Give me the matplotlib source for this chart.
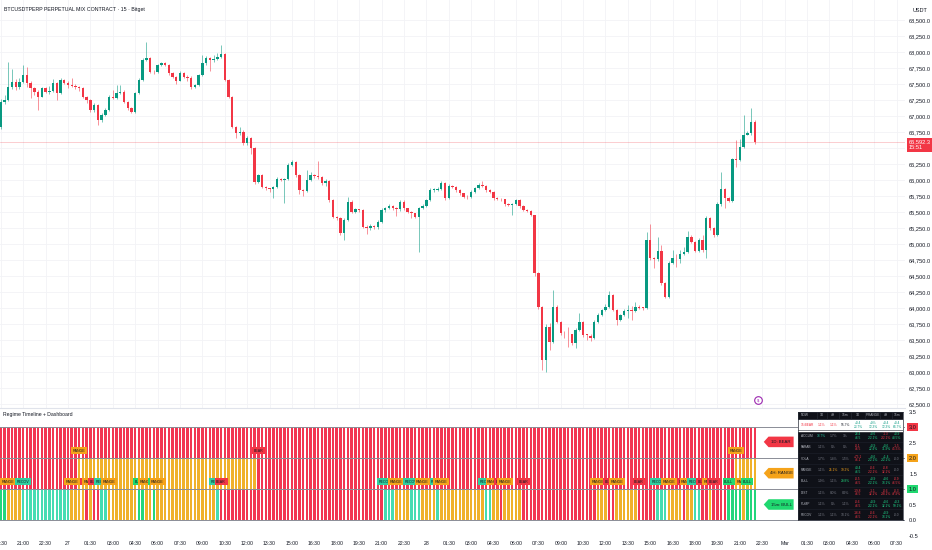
import numpy as np
import matplotlib.pyplot as plt
from matplotlib.patches import Polygon
import matplotlib.transforms as mtransforms

plt.rcParams['font.family'] = ['Liberation Sans', 'DejaVu Sans']

# ---- price data (15m candles, Feb 26 19:30 -> Feb 28 22:00) ----
first_open = 66833
closes = [
    67223, 67250, 67458, 67536, 67450, 67536, 67640, 67510, 67433, 67380,
    67302, 67433, 67380, 67395, 67510, 67355, 67562, 67520, 67484, 67470,
    67458, 67433, 67302, 67250, 67094, 67172, 66937, 67016, 67094, 67302,
    67280, 67355, 67380, 67223, 67120, 67068, 67355, 67562, 67875, 67901,
    67692, 67680, 67797, 67823, 67800, 67667, 67614, 67552, 67677, 67614,
    67600, 67448, 67484, 67640, 67833, 67901, 67870, 67890, 67917, 67970,
    67562, 67302, 66833, 66730, 66745, 66573, 66656, 66495, 65974, 66078,
    65895, 65870, 65855, 65883, 66011, 66000, 66015, 66234, 66286, 66078,
    65844, 65830, 66000, 66078, 66060, 66050, 65948, 65990, 65688, 65427,
    65402, 65167, 65375, 65661, 65505, 65542, 65530, 65271, 65245, 65286,
    65260, 65348, 65531, 65557, 65594, 65557, 65540, 65661, 65557, 65505,
    65479, 65427, 65557, 65594, 65688, 65844, 65850, 65860, 65958, 65714,
    65906, 65895, 65844, 65792, 65740, 65730, 65818, 65870, 65922, 65910,
    65844, 65818, 65714, 65700, 65698, 65625, 65610, 65625, 65688, 65594,
    65531, 65520, 65453, 64542, 64021, 63188, 63698, 63474, 64021, 63786,
    63604, 63600, 63590, 63448, 63656, 63786, 63578, 63570, 63526, 63786,
    63890, 63969, 64021, 64203, 63969, 63813, 63890, 63958, 63969, 63960,
    64021, 64000, 63995, 65062, 64776, 64760, 64895, 64386, 64177, 64708,
    64776, 64770, 64843, 64880, 65114, 65036, 64895, 65062, 64906, 65402,
    65245, 65140, 65625, 65855, 65714, 65677, 66323, 66310, 66520, 66703,
    66730, 66911, 66592.3,
]
highs = [
    67260, 67330, 67850, 67730, 67580, 67600, 67797, 67760, 67540, 67450,
    67400, 67460, 67450, 67470, 67580, 67530, 67590, 67580, 67540, 67600,
    67500, 67470, 67450, 67320, 67270, 67200, 67190, 67040, 67120, 67330,
    67400, 67484, 67480, 67400, 67240, 67140, 67380, 67600, 67900, 68160,
    67920, 67720, 67820, 67850, 67840, 67810, 67680, 67630, 67700, 67690,
    67640, 67620, 67500, 67660, 67960, 67930, 67920, 67960, 67990, 68110,
    67990, 67580, 67320, 66840, 66830, 66780, 66690, 66670, 66510, 66100,
    66090, 65910, 65880, 65900, 66040, 66030, 66030, 66260, 66320, 66300,
    66090, 65860, 66150, 66120, 66100, 66290, 66070, 66010, 66000, 65700,
    65440, 65420, 65400, 65740, 65680, 65560, 65550, 65545, 65290, 65310,
    65300, 65370, 65560, 65580, 65620, 65610, 65580, 65690, 65680, 65570,
    65510, 65490, 65580, 65620, 65710, 65870, 65880, 65890, 65990, 65970,
    65930, 65920, 65910, 65860, 65800, 65760, 65840, 65890, 65950, 65990,
    65920, 65860, 65830, 65730, 65720, 65710, 65640, 65640, 65710, 65700,
    65610, 65545, 65530, 65460, 64560, 64030, 63750, 63760, 64280, 64040,
    63800, 63640, 63710, 63600, 63680, 63920, 63800, 63600, 63590, 63810,
    63920, 63990, 64060, 64260, 64220, 63990, 63910, 63990, 64050, 64030,
    64100, 64040, 64020, 65190, 65310, 64800, 65114, 64984, 64400, 64730,
    64900, 64840, 64900, 64950, 65210, 65140, 65050, 65090, 65140, 65430,
    65420, 65260, 65650, 66130, 65880, 65740, 66350, 66625, 66640, 67010,
    66760, 67120, 66930,
]
lows = [
    66800, 67180, 67230, 67420, 67400, 67420, 67520, 67460, 67280, 67330,
    67094, 67290, 67360, 67350, 67380, 67250, 67340, 67500, 67440, 67450,
    67420, 67390, 67280, 67200, 67060, 67060, 66860, 66910, 67000, 67080,
    67260, 67260, 67340, 67200, 67090, 67040, 67050, 67340, 67540, 67860,
    67670, 67650, 67670, 67780, 67780, 67640, 67590, 67500, 67540, 67590,
    67540, 67420, 67430, 67470, 67620, 67800, 67700, 67850, 67880, 67900,
    67540, 67280, 66810, 66650, 66700, 66540, 66550, 66400, 65940, 65960,
    65870, 65840, 65820, 65714, 65870, 65980, 65640, 66000, 66220, 66050,
    65780, 65750, 65810, 65980, 66030, 66020, 65920, 65900, 65660, 65400,
    65380, 65140, 65062, 65360, 65480, 65490, 65500, 65250, 65150, 65220,
    65230, 65240, 65330, 65500, 65540, 65530, 65430, 65520, 65530, 65480,
    65400, 65400, 64880, 65540, 65580, 65670, 65820, 65830, 65840, 65690,
    65700, 65870, 65820, 65770, 65720, 65710, 65720, 65800, 65860, 65890,
    65820, 65800, 65690, 65680, 65670, 65600, 65590, 65450, 65610, 65570,
    65510, 65500, 65430, 64500, 63990, 63031, 63000, 63344, 63450, 63760,
    63580, 63530, 63396, 63420, 63380, 63640, 63550, 63500, 63490, 63510,
    63770, 63870, 63950, 64000, 63950, 63734, 63800, 63870, 63850, 63820,
    63940, 63980, 63970, 63980, 64750, 64620, 64740, 64360, 64150, 64160,
    64690, 64646, 64700, 64830, 64860, 65010, 64870, 64870, 64880, 64776,
    65220, 65110, 65120, 65600, 65557, 65650, 65660, 66208, 66290, 66500,
    66700, 66710, 66570,
]
last_price = 66592.3
countdown = "15:51"

# ---- regime runs per timeframe (name, number of candles) ----
regime_15m = [
    ("BULL", 2), ("RANGE", 4), ("RECOV", 13), ("RANGE", 4), ("BEAR", 1),
    ("RANGE", 1), ("BEAR", 2), ("RECOV", 2), ("RANGE", 8), ("BULL", 2),
    ("RANGE", 2), ("BULL", 1), ("RANGE", 16), ("RECOV", 1), ("BEAR", 44),
    ("RECOV", 3), ("RANGE", 4), ("RECOV", 3), ("RANGE", 4), ("RECOV", 1),
    ("RANGE", 12), ("RECOV", 2), ("RANGE", 2), ("BEAR", 1), ("RANGE", 5),
    ("BEAR", 20), ("RANGE", 3), ("BEAR", 2), ("RANGE", 6), ("BEAR", 5),
    ("RECOV", 3), ("RANGE", 4), ("BEAR", 1), ("RANGE", 2), ("RECOV", 2),
    ("BEAR", 2), ("RANGE", 1), ("BEAR", 4), ("BULL", 4), ("RANGE", 1),
    ("BULL", 3),
]
regime_4h = [("BEAR", 21), ("RANGE", 48), ("BEAR", 128), ("RANGE", 6)]
regime_1d = [("BEAR", 203)]

bar_colors = {'BEAR': '#f23652', 'RANGE': '#f0b12a', 'RECOV': '#45dcb2', 'BULL': '#22d67c'}
tag_colors = {'BEAR': '#f23645', 'RANGE': '#f5a31a', 'RECOV': '#2fcf9f', 'BULL': '#20d870'}

tick_pos = [-4.5, -3, -1.5, 0, 1.5, 3, 4.5, 6, 7.5, 9, 10.5, 12, 13.5, 15, 16.5, 18,
            19.5, 21, 22.5, 24, 25.5, 27, 28.5, 30, 31.5, 33, 34.5, 36, 37.5, 39,
            40.5, 42, 43.5, 45, 46.5, 48, 49.5, 51, 52.5, 54, 55.5]
tick_labels = ["19:30", "21:00", "22:30", "27", "01:30", "03:00", "04:30", "06:00",
               "07:30", "09:00", "10:30", "12:00", "13:30", "15:00", "16:30", "18:00",
               "19:30", "21:00", "22:30", "28", "01:30", "03:00", "04:30", "06:00",
               "07:30", "09:00", "10:30", "12:00", "13:30", "15:00", "16:30", "18:00",
               "19:30", "21:00", "22:30", "Mar", "01:30", "03:00", "04:30", "06:00",
               "07:30"]

# ---- dashboard table ----
dash_header = ["NOW", "1D", "4H", "15m", "1D", "P:RANGE", "4H", "15m"]
dash_now = ["15:BEAR", "1.1%", "1.1%", "55.7%", "+0.4\n23.7%", "+0%\n12.3%", "+0.4\n12.3%", "+0.4\n64.7%"]
dash_rows = ["ACCUM", "PARAB", "VOLA", "RANGE", "BULL", "DIST", "PUMP", "RECOV"]
dash_pct = [
    ["33.7%", "1.7%", "1%"],
    ["1.1%", "0%", "0%"],
    ["1.7%", "1.4%", "1.5%"],
    ["1.1%", "25.1%", "19.2%"],
    ["1.9%", "1.1%", "29.8%"],
    ["1.1%", "8.0%", "8.9%"],
    ["1.1%", "0%", "1.1%"],
    ["1.1%", "1.1%", "18.1%"],
]
dash_pct_col = [
    ['#26c6a0', '#787b86', '#787b86'],
    ['#787b86', '#787b86', '#787b86'],
    ['#787b86', '#787b86', '#787b86'],
    ['#787b86', '#f5a31a', '#f5a31a'],
    ['#787b86', '#787b86', '#22d67c'],
    ['#787b86', '#787b86', '#787b86'],
    ['#787b86', '#787b86', '#787b86'],
    ['#787b86', '#787b86', '#787b86'],
]
dash_fwd = [
    ["28.4\n46.5", "+0.6\n-22.1%", "-1.3\n-32.1%", "+0.9\n48.5%"],
    ["-0.1\n46.5", "+0.9\n22.4%", "+0.6\n31.9%", "-1.5\n45.5%"],
    ["+75.1\n46.1", "+0.6\n-22.1%", "+1.4\n-32.1%", "-0.0"],
    ["40.4\n46.5", "-0.6\n-22.1%", "-0.8\n32.1%", "-0.0"],
    ["-0.5\n46.5", "+0.9\n-22.1%", "+0.6\n38.1%", "-0.9\n46.5%"],
    ["-19.8\n46.5", "-1.1\n32.1%", "-0.6\n-38.1%", "-0.3\n47.9%"],
    ["-0.6\n46.5", "+0.9\n-32.1%", "+0.6\n32.1%", "+0.3\n59.1%"],
    ["-16.8\n46.5", "-0.6\n-22.1%", "+0.9\n38.1%", "-0.0"],
]
dash_fwd_col = [
    ['g', 'g', 'r', 'g'],
    ['r', 'g', 'g', 'r'],
    ['r', 'g', 'g', 'n'],
    ['g', 'r', 'r', 'n'],
    ['r', 'g', 'g', 'r'],
    ['r', 'r', 'r', 'r'],
    ['r', 'g', 'g', 'g'],
    ['r', 'r', 'g', 'n'],
]

up_col = '#089981'
dn_col = '#f23645'
text_col = '#131722'

t_start = -4.5
step = 0.25
n = len(closes)
t = t_start + step * np.arange(n)
opens = [first_open] + closes[:-1]

fig = plt.figure(figsize=(9.32, 5.5), dpi=100)
ax = fig.add_axes([0, 408 / 550, 905 / 932, 1 - 408 / 550])
ax.set_position([0, 1 - 408 / 550, 905 / 932, 408 / 550])
ax2 = fig.add_axes([0, 13 / 550, 905 / 932, 129 / 550], sharex=ax)

xmin, xmax = -4.555, 56.06
ax.set_xlim(xmin, xmax)

# ---- main price panel ----
ax.set_ylim(62437.5, 68812.5)
for s in ax.spines.values():
    s.set_visible(False)
yt = np.arange(62500, 68501, 250)
ax.set_yticks(yt)
ax.set_yticklabels([f"{v:,.1f}" for v in yt])
ax.yaxis.tick_right()
ax.tick_params(axis='y', length=0, labelsize=4.1, colors=text_col, pad=3)
ax.tick_params(axis='x', length=0, labelbottom=False)
ax.set_xticks(tick_pos)
ax.grid(True, color='#f2f3f6', lw=0.6)
ax.set_axisbelow(True)

cols = [up_col if c >= o else dn_col for o, c in zip(opens, closes)]
hi = [max(h, o, c) for h, o, c in zip(highs, opens, closes)]
lo = [min(l, o, c) for l, o, c in zip(lows, opens, closes)]
ax.vlines(t, lo, hi, colors=cols, lw=0.7, alpha=0.55, zorder=2)
body_h = [c - o if abs(c - o) > 8 else 8 for o, c in zip(opens, closes)]
ax.bar(t, body_h, bottom=opens, width=0.16, color=cols, lw=0, zorder=3)

ax.axhline(last_price, color=dn_col, lw=0.5, alpha=0.35, zorder=1)
trans = mtransforms.blended_transform_factory(ax.transAxes, ax.transData)
ax.text(1.004, last_price - 40, f"{last_price:,.1f}\n{countdown}", transform=trans,
        fontsize=4.1, color='white', ha='left', va='center', linespacing=1.1,
        bbox=dict(boxstyle='square,pad=0.3', fc=dn_col, ec='none'), clip_on=False, zorder=6)

ax.plot([46.2], [62560], marker='o', ms=5.5, mfc='white', mec='#9c27b0', mew=0.8, zorder=5, clip_on=False)
ax.text(46.2, 62560, "$", fontsize=3, color='#9c27b0', ha='center', va='center', zorder=6)

fig.text(0.004, 0.988, "BTCUSDTPERP PERPETUAL MIX CONTRACT · 15 · Bitget", fontsize=3.8,
         color=text_col, ha='left', va='top')
fig.text(0.979, 0.985, "USDT", fontsize=4, color=text_col, ha='left', va='top')

# ---- regime timeline panel ----
ax2.set_ylim(-0.548, 3.613)
for k, s in ax2.spines.items():
    s.set_visible(k == 'top')
ax2.spines['top'].set_color('#e0e3eb')
ax2.spines['top'].set_linewidth(0.8)


def expand(runs):
    out = []
    for name, cnt in runs:
        out += [name] * cnt
    return out


for row, runs in enumerate([regime_15m, regime_4h, regime_1d]):
    names = expand(runs)
    ax2.bar(t[:len(names)], 1, bottom=row, width=0.17,
            color=[bar_colors[nm] for nm in names], lw=0, zorder=2)

for yv in [0, 1, 2, 3]:
    ax2.axhline(yv, color='#8a8d96', lw=0.7, zorder=3)


def regime_tags(runs, row, first):
    idx = 0
    for name, cnt in runs:
        if first or idx > 0:
            ax2.text(t_start + idx * step, row + 1.24, name, fontsize=2.6, color=text_col,
                     ha='center', va='center', zorder=5, clip_on=True,
                     bbox=dict(boxstyle='square,pad=0.45', fc=tag_colors[name], ec='none'))
        idx += cnt


regime_tags(regime_15m, 0, True)
regime_tags(regime_4h, 1, False)

for yc, label, key in [(2.52, "1D: BEAR", 'BEAR'), (1.51, "4H: RANGE", 'RANGE'), (0.5, "15m: BULL", 'BULL')]:
    x0, x1, tip, hh = 46.6, 48.6, 0.32, 0.17
    poly = Polygon([[x0, yc], [x0 + tip, yc + hh], [x1, yc + hh], [x1, yc - hh], [x0 + tip, yc - hh]],
                   closed=True, fc=tag_colors[key], ec='none', zorder=4)
    ax2.add_patch(poly)
    ax2.text((x0 + tip + x1) / 2, yc, label, fontsize=3.1, color=text_col, ha='center', va='center', zorder=5)

ax2.text(-4.35, 3.39, "Regime Timeline + Dashboard", fontsize=3.7, color=text_col, ha='left', va='center')

yt2 = [-0.5, 0, 0.5, 1, 1.5, 2, 2.5, 3, 3.5]
ax2.set_yticks(yt2)
ax2.set_yticklabels([f"{v:.1f}" for v in yt2])
ax2.yaxis.tick_right()
ax2.tick_params(axis='y', length=0, labelsize=4.1, colors=text_col, pad=3)
trans2 = mtransforms.blended_transform_factory(ax2.transAxes, ax2.transData)
for yv, key in [(3, 'BEAR'), (2, 'RANGE'), (1, 'BULL')]:
    ax2.text(1.004, yv, f"{yv:.1f}", transform=trans2, fontsize=4.1, color=text_col,
             ha='left', va='center', clip_on=False, zorder=6,
             bbox=dict(boxstyle='square,pad=0.3', fc=tag_colors[key], ec='none'))

ax2.set_xticks(tick_pos)
ax2.set_xticklabels(tick_labels)
ax2.tick_params(axis='x', length=0, labelsize=3.7, colors=text_col, pad=3)
ax2.set_xlim(xmin, xmax)

# ---- dashboard ----
dax = fig.add_axes([798 / 932, 30 / 550, 105 / 932, 108 / 550])
dax.set_facecolor('#0f1118')
dax.set_xlim(0, 105)
dax.set_ylim(108, 0)
dax.set_xticks([])
dax.set_yticks([])
for s in dax.spines.values():
    s.set_color('#2a2e39')
    s.set_linewidth(0.5)

col_x = [3, 23.5, 35, 47, 60, 75, 88, 99]
row_y = [24, 35.5, 46.5, 58, 69, 80.5, 92, 103]
green_c, red_c, gray_c = '#1fd68a', '#f23645', '#787b86'
fs = 2.3

dax.fill_between([0, 105], 8, 18.5, color='white', zorder=1)
for j, h in enumerate(dash_header):
    dax.text(col_x[j], 3.2, h, fontsize=fs, color='#b2b5be',
             ha='left' if j == 0 else 'center', va='center')
for xv in [19, 29, 41, 53, 67, 82, 94]:
    dax.plot([xv, xv], [0, 6.5], color='#2a2e39', lw=0.4)
dax.plot([0, 105], [6.5, 6.5], color='#2a2e39', lw=0.4)

now_cols = [red_c, red_c, red_c, text_col, '#089981', '#089981', '#089981', '#089981']
for j, v in enumerate(dash_now):
    dax.text(col_x[j], 13.2, v, fontsize=fs, color=now_cols[j], ha='left' if j == 0 else 'center',
             va='center', linespacing=0.9, zorder=2)

cmap = {'g': green_c, 'r': red_c, 'n': gray_c}
for i, name in enumerate(dash_rows):
    yv = row_y[i]
    dax.text(col_x[0], yv, name, fontsize=fs, color='#b2b5be', ha='left', va='center')
    for j in range(3):
        dax.text(col_x[j + 1], yv, dash_pct[i][j], fontsize=fs, color=dash_pct_col[i][j],
                 ha='center', va='center')
    for j in range(4):
        dax.text(col_x[j + 4], yv, dash_fwd[i][j], fontsize=fs, color=cmap[dash_fwd_col[i][j]],
                 ha='center', va='center', linespacing=0.9)
    dax.plot([0, 105], [yv - 5.6, yv - 5.6], color='#1e222d', lw=0.4)

fig.savefig('out.png', dpi=100, facecolor='white')
